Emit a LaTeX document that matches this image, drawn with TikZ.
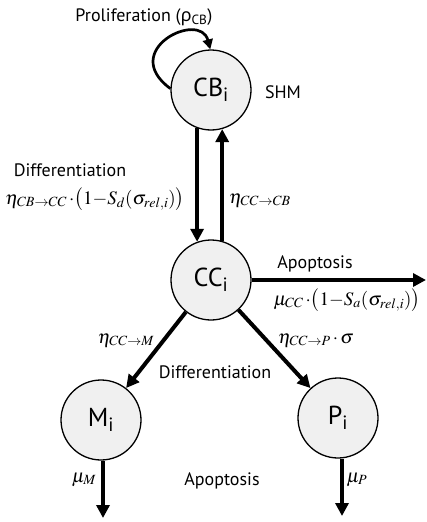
\documentclass[tikz,border=0pt]{standalone}
\usepackage{mathptmx}
\usepackage[no-math]{fontspec}
\setmainfont{PT Sans}
\newfontfamily\greekfont{Noto Sans}
\usetikzlibrary{arrows.meta}
\definecolor{cellfill}{HTML}{F0F0F0}
\begin{document}
\begin{tikzpicture}[x=1pt,y=-1pt,
  cell/.style={circle, draw, line width=1.3pt, fill=cellfill, minimum size=80pt, inner sep=0pt, font=\fontsize{26}{28}\selectfont},
  flow/.style={line width=4pt, -{Triangle[length=13pt,width=13pt]}},
  loopflow/.style={line width=2.7pt, -{Triangle[length=10pt,width=10pt]}},
  lbl/.style={font=\fontsize{18}{20}\selectfont, inner sep=0pt, anchor=base},
  mth/.style={font=\fontsize{19}{21}\selectfont, inner sep=0pt, anchor=base}]
\useasboundingbox (0,0) rectangle (427,522);
\node[cell] (CB) at (211,90) {CB\textsubscript{i}};
\node[cell] (CC) at (211,280) {CC\textsubscript{i}};
\node[cell] (M) at (101,420) {M\textsubscript{i}};
\node[cell] (P) at (338,418) {P\textsubscript{i}};
\coordinate (apo) at (426,280);
\coordinate (Mout) at (103,518);
\coordinate (Pout) at (342,516);
% arrows
\draw[loopflow] (CB.178) .. controls (118,50) and (200,10) .. (CB.91);
\draw[flow] (CB.-110) -- (CC.110);
\draw[flow] (CC.74) -- (CB.-74);
\draw[flow] (CC.east) -- (apo);
\draw[flow] (CC) -- (M);
\draw[flow] (CC) -- (P);
\draw[flow] (M.south -| Mout) -- (Mout);
\draw[flow] (P.south -| Pout) -- (Pout);
% labels
\node[lbl] (prolif) at (144,21) {Proliferation ({\greekfont ρ}\textsubscript{CB})};
\node[lbl] (shm) at (283,98) {SHM};
\node[lbl] (diff1) at (70,176) {Differentiation};
\node[mth] (f1) at (95,204) {$\eta_{CB\to CC}\,{\cdot}\bigl(1{-}S_d(\sigma_{rel,i})\bigr)$};
\node[mth] (f2) at (260,203) {$\eta_{CC\to CB}$};
\node[lbl] (apop1) at (315,268) {Apoptosis};
\node[mth] (f3) at (347,305) {$\mu_{CC}\,{\cdot}\bigl(1{-}S_a(\sigma_{rel,i})\bigr)$};
\node[mth] (f4) at (126,343) {$\eta_{CC\to M}$};
\node[mth] (f5) at (316,343) {$\eta_{CC\to P}\,{\cdot}\,\sigma$};
\node[lbl] (diff2) at (215,378) {Differentiation};
\node[mth] (f6) at (84,482) {$\mu_M$};
\node[lbl] (apop2) at (222,485) {Apoptosis};
\node[mth] (f7) at (357,482) {$\mu_P$};
\end{tikzpicture}
\end{document}
